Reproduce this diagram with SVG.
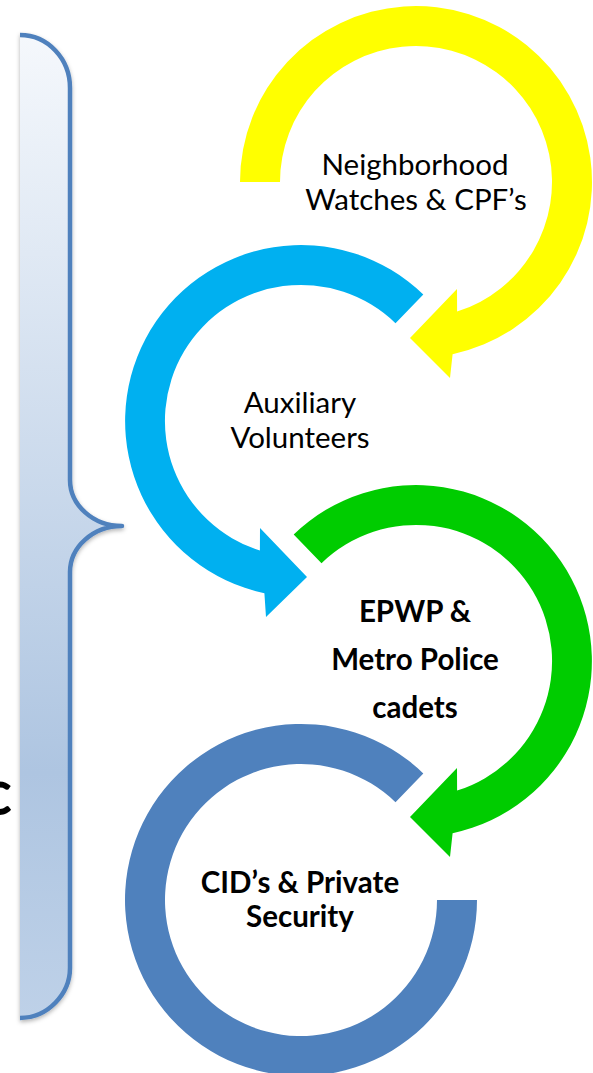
<svg xmlns="http://www.w3.org/2000/svg" width="593" height="1073" viewBox="0 0 593 1073">
  <defs>
    <linearGradient id="braceFill" x1="0" y1="0" x2="0" y2="1">
      <stop offset="0" stop-color="#F5F8FC"/>
      <stop offset="0.75" stop-color="#AEC5E1"/>
      <stop offset="1" stop-color="#BED1E8"/>
    </linearGradient>
    <filter id="shadow" x="-20%" y="-5%" width="140%" height="110%">
      <feDropShadow dx="0" dy="2" stdDeviation="2" flood-color="#000" flood-opacity="0.3"/>
    </filter>
  </defs>
  <style>
    .lbl { font-family: Lato, "Liberation Sans", sans-serif; font-size: 29.5px; fill: #000; text-anchor: middle; }
    .bold { font-weight: bold; }
    .ring { stroke: none; }
  </style>
  <rect width="593" height="1073" fill="#FFFFFF"/>

  <g id="brace" filter="url(#shadow)">
    <path d="M 20,35 C 47.6,35 70,58.7 70,88 L 70,480 C 70,505 93,526 122,526 C 93,526 70,547 70,572 L 70,968 C 70,994 47.6,1018 20,1018 Z" fill="url(#braceFill)" stroke="none"/>
    <path d="M 20,35 C 47.6,35 70,58.7 70,88 L 70,480 C 70,505 93,526 122,526 C 93,526 70,547 70,572 L 70,968 C 70,994 47.6,1018 20,1018" fill="none" stroke="#4F81BD" stroke-width="4.5" stroke-linejoin="round"/>
  </g>

  <text id="clipped-label" x="12" y="815" style="font-family: Lato, 'Liberation Sans', sans-serif; font-weight: bold; font-size: 64px; fill: #000; text-anchor: end;">c</text>

  <g id="connectors"></g>

  <g id="node-neighborhood">
    <path class="ring" fill="#FFFF00" d="M 240,182 A 176 176 0 1 1 452.6,354.2 L 450,378 L 410,338 L 457,289 L 457.1,311.6 A 136 136 0 1 0 280,182 Z"/>
    <text class="lbl" x="415" y="175">Neighborhood</text>
    <text class="lbl" x="416" y="210">Watches &amp; CPF’s</text>
  </g>

  <g id="node-auxiliary">
    <path class="ring" fill="#00B0F0" d="M 423.3,294.4 A 176 176 0 1 0 264.4,593.2 L 266,617 L 307,577 L 260,528 L 259.9,550.6 A 136 136 0 1 1 395.5,323.2 Z"/>
    <text class="lbl" x="300" y="413">Auxiliary</text>
    <text class="lbl" x="300" y="448">Volunteers</text>
  </g>

  <g id="node-epwp">
    <path class="ring" fill="#00CC00" d="M 293.7,534.4 A 176 176 0 1 1 452.6,833.2 L 450,857 L 410,817 L 457,768 L 457.1,790.6 A 136 136 0 1 0 321.5,563.2 Z"/>
    <text class="lbl bold" x="415" y="622">EPWP &amp;</text>
    <text class="lbl bold" x="415" y="670">Metro Police</text>
    <text class="lbl bold" x="415" y="718">cadets</text>
  </g>

  <g id="node-cid">
    <path class="ring" fill="#4F81BD" d="M 477,900 A 176 176 0 1 1 423.3,773.4 L 395.5,802.2 A 136 136 0 1 0 437,900 Z"/>
    <text class="lbl bold" x="300" y="893">CID’s &amp; Private</text>
    <text class="lbl bold" x="300" y="927">Security</text>
  </g>
</svg>
